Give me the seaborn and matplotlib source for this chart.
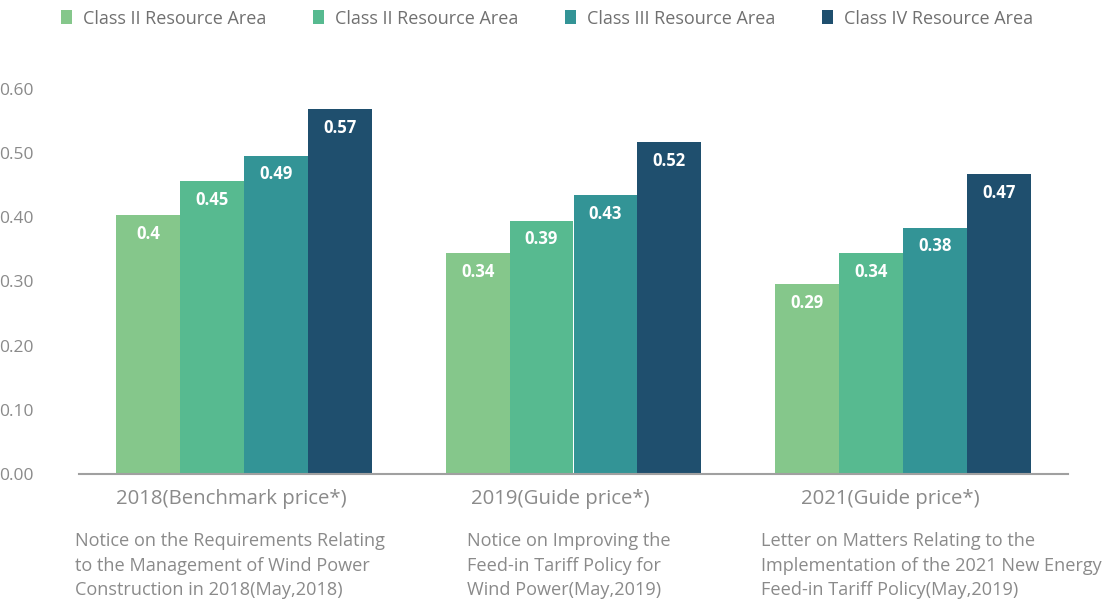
import matplotlib
matplotlib.use("Agg")
import matplotlib.pyplot as plt
import matplotlib.transforms as mtransforms
import seaborn as sns
import pandas as pd

# datos del grafico
periods = ["2018(Benchmark price*)", "2019(Guide price*)", "2021(Guide price*)"]
area_keys = ["a1", "a2", "a3", "a4"]
area_names = ["Class II Resource Area", "Class II Resource Area",
              "Class III Resource Area", "Class IV Resource Area"]
area_1 = [0.404, 0.344, 0.296]
area_2 = [0.457, 0.395, 0.344]
area_3 = [0.496, 0.435, 0.384]
area_4 = [0.569, 0.517, 0.467]
# etiquetas que aparecen dentro de las barras
labels_1 = ["0.4", "0.34", "0.29"]
labels_2 = ["0.45", "0.39", "0.34"]
labels_3 = ["0.49", "0.43", "0.38"]
labels_4 = ["0.57", "0.52", "0.47"]
yticks = [0.0, 0.1, 0.2, 0.3, 0.4, 0.5, 0.6]
notices = [
    "Notice on the Requirements Relating\nto the Management of Wind Power\nConstruction in 2018(May,2018)",
    "Notice on Improving the\nFeed-in Tariff Policy for\nWind Power(May,2019)",
    "Letter on Matters Relating to the\nImplementation of the 2021 New Energy\nFeed-in Tariff Policy(May,2019)",
]
notice_x = [-0.513, 0.676, 1.568]

colors = ["#85C78B", "#57BA90", "#339496", "#1F4F6E"]
grey = "#8a8a8a"

rows = []
for key, vals in zip(area_keys, [area_1, area_2, area_3, area_4]):
    for p, v in zip(periods, vals):
        rows.append({"period": p, "area": key, "price": v})
df = pd.DataFrame(rows)

sns.set_style("white")
plt.rcParams["font.family"] = ["Open Sans", "DejaVu Sans"]

fig = plt.figure(figsize=(11.09, 5.99), dpi=100)
ax = fig.add_axes([79 / 1109, 1 - 474 / 599, (1068 - 79) / 1109, (474 - 89) / 599])

sns.barplot(data=df, x="period", y="price", hue="area", hue_order=area_keys,
            palette=colors, saturation=1, width=0.776, ax=ax, errorbar=None,
            linewidth=0, edgecolor="none")

# etiquetas dentro de las barras
for cont, labs in zip(ax.containers, [labels_1, labels_2, labels_3, labels_4]):
    for bar, lab in zip(cont, labs):
        ax.annotate(lab, (bar.get_x() + bar.get_width() / 2, bar.get_height()),
                    xytext=(0, -13.5), textcoords="offset points",
                    ha="center", va="center", color="white",
                    fontsize=12, fontweight="bold")

handles, _ = ax.get_legend_handles_labels()
ax.get_legend().remove()
fig.legend(handles, area_names, loc="upper left", ncol=4, frameon=False,
           bbox_to_anchor=(52 / 1109, 1 - 0.5 / 599), fontsize=13,
           handlelength=0.6, handleheight=0.85, handletextpad=0.6,
           columnspacing=2.6, borderpad=0, labelcolor="#707070")

ax.set_xlim(-0.5, 2.5)
ax.set_ylim(0, 0.6)
ax.set_yticks(yticks)
ax.set_yticklabels([f"{t:.2f}" for t in yticks])
ax.tick_params(axis="y", length=0, pad=33, labelsize=12.5, labelcolor=grey)
ax.tick_params(axis="x", length=0, pad=10.5, labelsize=14.7, labelcolor=grey)
shift = mtransforms.ScaledTranslation(-13 / 100, 0, fig.dpi_scale_trans)
for lab in ax.get_xticklabels():
    lab.set_transform(lab.get_transform() + shift)
ax.set_xlabel("")
ax.set_ylabel("")
for s in ["top", "right", "left"]:
    ax.spines[s].set_visible(False)
ax.spines["bottom"].set_color("#a0a0a0")
ax.spines["bottom"].set_linewidth(1.5)

trans = mtransforms.blended_transform_factory(ax.transData, ax.transAxes)
for x, txt in zip(notice_x, notices):
    ax.text(x, -0.151, txt, transform=trans, ha="left", va="top",
            fontsize=13.1, color=grey, linespacing=1.46)

fig.savefig("out.png", dpi=100, facecolor="white")
